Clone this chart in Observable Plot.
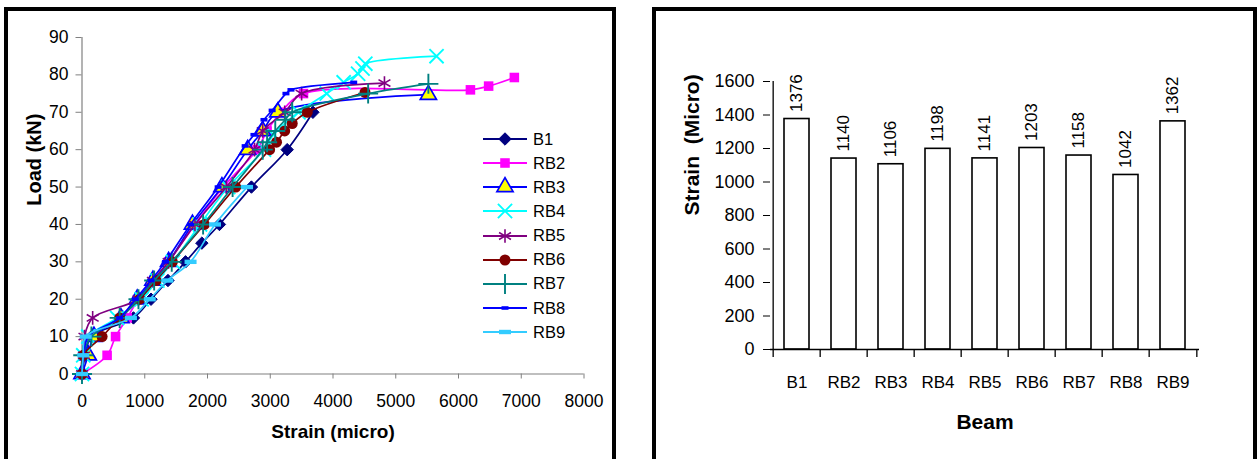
<!DOCTYPE html>
<html><head><meta charset="utf-8">
<script src="https://cdn.jsdelivr.net/npm/d3@7"></script>
<script src="https://cdn.jsdelivr.net/npm/@observablehq/plot@0.6"></script>
<style>
html,body{margin:0;padding:0;background:#fff;width:1257px;height:459px;overflow:hidden;font-family:"Liberation Sans",Arial,sans-serif}
.panel{position:absolute;box-sizing:border-box;border:4px solid #000;border-bottom:none;background:#fff;overflow:visible}
#left{left:4px;top:7px;width:612px;height:452px}
#right{left:652px;top:7px;width:605px;height:452px}
.panel svg.chart{position:absolute;left:0;top:0}
.lg{position:absolute;display:flex;align-items:center;height:20px;color:#000;white-space:nowrap}
.lg svg{display:block}
</style></head><body>
<div id="left" class="panel"></div>
<div id="right" class="panel"></div>
<script>
// ---------- Data: load–strain curves ----------
const seriesNames  = ["B1","RB2","RB3","RB4","RB5","RB6","RB7","RB8","RB9"];
const seriesColors = ["#000080","#FF00FF","#0000FF","#00FFFF","#800080","#800000","#008080","#0000FF","#33CCFF"];

const strainB1  = [0, 50, 150, 820, 1100, 1370, 1650, 1910, 2190, 2700, 3270, 3680];
const loadB1    = [0, 5, 10, 15, 20, 25, 30, 35, 40, 50, 60, 70];
const strainRB2 = [0, 400, 535, 720, 900, 1150, 1380, 1800, 2250, 2790, 2950, 3170, 3530, 6190, 6480, 6890];
const loadRB2   = [0, 5, 10, 15, 20, 25, 30, 40, 50, 60, 65, 70, 75, 76, 77, 79.3];
const strainRB3 = [0, 100, 190, 620, 880, 1130, 1380, 1760, 2230, 2640, 2880, 3120, 5520];
const loadRB3   = [0, 5, 10, 15, 20, 25, 30, 40, 50, 60, 65, 70, 74.7];
const strainRB4 = [0, 20, 100, 560, 950, 1200, 1450, 1880, 2330, 2900, 3050, 3450, 3900, 4170, 4400, 4470, 4515, 5650];
const loadRB4   = [0, 5, 10, 15, 20, 25, 30, 40, 50, 60, 64, 70, 75, 78, 80.3, 81.7, 83, 85];
const strainRB5 = [0, 30, 40, 170, 900, 1130, 1380, 1800, 2300, 2750, 2880, 3230, 3500, 4820];
const loadRB5   = [0, 5, 10, 15, 20, 25, 30, 40, 50, 60, 65, 70, 75, 77.8];
const strainRB6 = [0, 20, 320, 600, 920, 1180, 1440, 1950, 2450, 2990, 3100, 3230, 3350, 3590, 4510];
const loadRB6   = [0, 5, 10, 15, 20, 25, 30, 40, 50, 60, 62, 65, 67, 70, 75.3];
const strainRB7 = [0, 20, 150, 600, 900, 1150, 1430, 1930, 2400, 2880, 2950, 3080, 3240, 3350, 4560, 5520];
const loadRB7   = [0, 5, 10, 15, 20, 25, 30, 40, 50, 60, 62, 65, 68, 70, 75, 77.6];
const strainRB8 = [0, 30, 100, 600, 850, 1100, 1330, 1730, 2170, 2600, 2740, 2900, 3030, 3250, 3330, 4330];
const loadRB8   = [0, 5, 10, 15, 20, 25, 30, 40, 50, 61, 64, 68, 70.5, 75, 76, 78];
const strainRB9 = [0, 20, 60, 780, 1080, 1360, 1730, 2120, 2630];
const loadRB9   = [0, 5, 10, 15, 20, 25, 30, 40, 50];

const strainTicks = [0,1000,2000,3000,4000,5000,6000,7000,8000];
const loadTicks   = [0,10,20,30,40,50,60,70,80,90];
const leftXTitle = "Strain (micro)";
const leftYTitle = "Load (kN)";

// ---------- Data: bar chart ----------
const beams       = ["B1","RB2","RB3","RB4","RB5","RB6","RB7","RB8","RB9"];
const beamStrain  = [1376, 1140, 1106, 1198, 1141, 1203, 1158, 1042, 1362];
const barTicks    = [0,200,400,600,800,1000,1200,1400,1600];
const rightXTitle = "Beam";
const rightYTitle = "Strain\u00a0 (Micro)";

// ---------- build tables ----------
const strains = [strainB1,strainRB2,strainRB3,strainRB4,strainRB5,strainRB6,strainRB7,strainRB8,strainRB9];
const loads   = [loadB1,loadRB2,loadRB3,loadRB4,loadRB5,loadRB6,loadRB7,loadRB8,loadRB9];
const curves = seriesNames.map((name, i) => ({
  name, color: seriesColors[i],
  rows: strains[i].map((s, j) => ({strain: s, load: loads[i][j]}))
}));
const barData = beams.map((b, i) => ({beam: b, strain: beamStrain[i]}));

// ---------- font detection ----------
function fontAvail(name){
  const c = document.createElement("canvas").getContext("2d");
  c.font = `20px "${name}", monospace`; const a = c.measureText("RB2 8000 abcxyz").width;
  c.font = `20px monospace`; const b = c.measureText("RB2 8000 abcxyz").width;
  return Math.abs(a-b) > 0.5;
}
const narrow = fontAvail("Liberation Sans Narrow");
const leftFont = narrow ? '"Liberation Sans Narrow", "Liberation Sans", Arial, sans-serif' : '"Liberation Sans", Arial, sans-serif';
const leftTick = narrow ? 20 : 17.5;
const leftLeg  = narrow ? 19 : 16.5;

// ---------- marker styles ----------
const dashSmall = {draw(ctx){ ctx.rect(-3.5,-1.8,7,3.6); }};
const dashWide  = {draw(ctx){ ctx.rect(-6,-2.2,12,4.4); }};
const d3Sym = {diamond2: d3.symbolDiamond2, square: d3.symbolSquare, triangle: d3.symbolTriangle,
  times: d3.symbolTimes, asterisk: d3.symbolAsterisk, circle: d3.symbolCircle, plus: d3.symbolPlus};
function markerOf(i){
  const c = seriesColors[i];
  switch(seriesNames[i]){
    case "B1":  return {symbol:"diamond2", r:5.6, fill:c, stroke:c, strokeWidth:1};
    case "RB2": return {symbol:"square", r:5.4, fill:c, stroke:"none"};
    case "RB3": return {symbol:"triangle", r:6, fill:"#FFFF00", stroke:c, strokeWidth:1.7};
    case "RB4": return {symbol:"times", r:6.5, fill:"none", stroke:c, strokeWidth:1.9};
    case "RB5": return {symbol:"asterisk", r:6.5, fill:"none", stroke:c, strokeWidth:1.6};
    case "RB6": return {symbol:"circle", r:5.5, fill:c, stroke:"none"};
    case "RB7": return {symbol:"plus", r:6.5, fill:"none", stroke:c, strokeWidth:1.9};
    case "RB8": return {symbol:dashSmall, r:4, fill:c, stroke:"none"};
    case "RB9": return {symbol:dashWide, r:5, fill:c, stroke:"none"};
  }
}

// ---------- Left chart ----------
const W1 = 604, H1 = 448;
const leftMarks = [
  Plot.ruleY([0], {stroke:"#808080", strokeWidth:1.2}),
  Plot.ruleX([0], {stroke:"#808080", strokeWidth:1.2}),
  Plot.axisX({ticks: strainTicks, tickSize:5, tickPadding:16, tickFormat: d => String(d), stroke:"#808080", fill:"#000", label:null, fontSize: leftTick}),
  Plot.axisY({ticks: loadTicks, tickSize:6, tickPadding:7.5, tickFormat: d => String(d), stroke:"#808080", fill:"#000", label:null, fontSize: leftTick}),
  Plot.text([leftXTitle], {frameAnchor:"bottom", dy:64, lineAnchor:"bottom", text:d=>d, fontWeight:"bold", fontSize:19, fontFamily:'"Liberation Sans", Arial, sans-serif'}),
  Plot.text([leftYTitle], {frameAnchor:"left", dx:-55.5, rotate:-90, lineAnchor:"top", text:d=>d, fontWeight:"bold", fontSize:20, fontFamily:'"Liberation Sans", Arial, sans-serif'})
];
curves.forEach((c, i) => {
  leftMarks.push(Plot.line(c.rows, {x:"strain", y:"load", stroke:c.color, strokeWidth:1.7, curve:"catmull-rom"}));
  const m = markerOf(i);
  leftMarks.push(Plot.dot(c.rows, {x:"strain", y:"load", ...m}));
});
const leftPlot = Plot.plot({
  width: W1, height: H1,
  marginLeft: 73.5, marginRight: 28.5, marginTop: 26, marginBottom: 85.5,
  style: {fontFamily: leftFont, fontSize: leftTick+"px", color:"#000", background:"transparent", overflow:"visible"},
  x: {domain:[0,8000]},
  y: {domain:[0,90]},
  marks: leftMarks
});
leftPlot.classList.add("chart");
document.getElementById("left").appendChild(leftPlot);

// legend (HTML overlay, swatches drawn with d3 symbols)
const legendX = 475, legendY0 = 128, legendStep = 24.15;
curves.forEach((c, i) => {
  const m = markerOf(i);
  const row = document.createElement("div");
  row.className = "lg";
  row.style.left = legendX + "px";
  row.style.top = (legendY0 + i*legendStep - 10) + "px";
  row.style.fontFamily = leftFont;
  row.style.fontSize = leftLeg + "px";
  const sw = d3.create("svg").attr("width", 50).attr("height", 20).style("overflow","visible");
  sw.append("line").attr("x1",0).attr("x2",44).attr("y1",10).attr("y2",10).attr("stroke",c.color).attr("stroke-width",2);
  const type = typeof m.symbol === "string" ? d3Sym[m.symbol] : m.symbol;
  sw.append("path").attr("transform","translate(22,10)").attr("d", d3.symbol(type, Math.PI*m.r*m.r)())
    .attr("fill", m.fill).attr("stroke", m.stroke).attr("stroke-width", m.strokeWidth||1);
  row.appendChild(sw.node());
  const t = document.createElement("span"); t.textContent = c.name; row.appendChild(t);
  document.getElementById("left").appendChild(row);
});

// ---------- Right chart ----------
const W2 = 597, H2 = 448, ml2 = 114, mr2 = 54, pInner = 0.46, pOuter = 0.23;
const step = (W2 - ml2 - mr2) / (beams.length - pInner + 2*pOuter);
const rightFont = '"Liberation Sans", Arial, sans-serif';
const rightPlot = Plot.plot({
  width: W2, height: H2,
  marginLeft: ml2, marginRight: mr2, marginTop: 70, marginBottom: 110,
  style: {fontFamily: rightFont, fontSize:"17px", color:"#000", background:"transparent", overflow:"visible"},
  x: {domain: beams, paddingInner: pInner, paddingOuter: pOuter},
  y: {domain: [0,1600]},
  marks: [
    Plot.barY(barData, {x:"beam", y:"strain", fill:"#fff", stroke:"#000", strokeWidth:1.6}),
    Plot.ruleY([0], {stroke:"#000", strokeWidth:1.3}),
    Plot.ruleX([beams[0]], {x:d=>d, dx:-step/2, stroke:"#000", strokeWidth:1.3}),
    Plot.ruleX(beams, {x:d=>d, y1:0, y2:0, insetBottom:-8, dx:-step/2, stroke:"#000", strokeWidth:1.3}),
    Plot.ruleX([beams[beams.length-1]], {x:d=>d, y1:0, y2:0, insetBottom:-8, dx:step/2, stroke:"#000", strokeWidth:1.3}),
    Plot.axisX({tickSize:0, tickPadding:26, label:null, fontSize:17}),
    Plot.axisY({ticks: barTicks, tickSize:7, tickPadding:9, tickFormat:d=>String(d), label:null, fontSize:18, stroke:"#000"}),
    Plot.text(barData, {x:"beam", y:"strain", text:d=>String(d.strain), rotate:-90, textAnchor:"start", lineAnchor:"middle", dy:-7, fontSize:17}),
    Plot.text([rightXTitle], {frameAnchor:"bottom", dy:79.3, lineAnchor:"bottom", text:d=>d, fontWeight:"bold", fontSize:21}),
    Plot.text([rightYTitle], {frameAnchor:"left", dx:-86, rotate:-90, lineAnchor:"top", text:d=>d, fontWeight:"bold", fontSize:21})
  ]
});
rightPlot.classList.add("chart");
document.getElementById("right").appendChild(rightPlot);
</script>
</body></html>
